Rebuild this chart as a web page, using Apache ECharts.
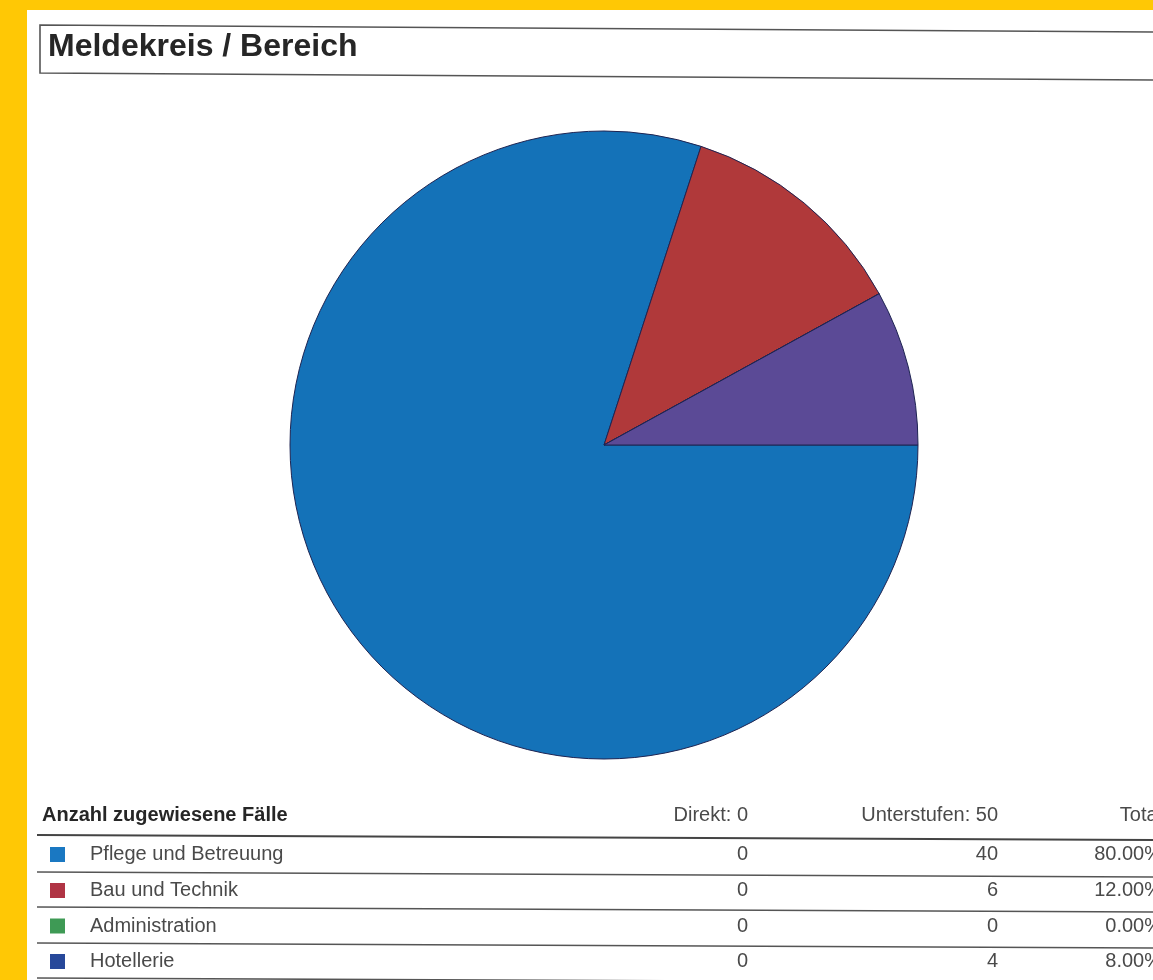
<!DOCTYPE html>
<html>
<head>
<meta charset="utf-8">
<script src="https://cdn.jsdelivr.net/npm/echarts@6/dist/echarts.min.js"></script>
<style>
  html, body { margin: 0; padding: 0; background: #ffffff; }
  #chart { width: 1153px; height: 980px; }
</style>
</head>
<body>
<div id="chart"></div>
<script>
// Report content
const titleText = 'Meldekreis / Bereich';
const tableTitle = 'Anzahl zugewiesene Fälle';
const categories = ['Pflege und Betreuung', 'Bau und Technik', 'Administration', 'Hotellerie'];
const direkt = [0, 0, 0, 0];
const unterstufen = [40, 6, 0, 4];
const columnHeads = ['Direkt', 'Unterstufen', 'Total'];

// Colours
const sliceColors = ['#1472b8', '#b0393a', '#3e9a55', '#5b4a96'];
const legendColors = ['#1a78c2', '#b03444', '#3e9a55', '#27489a'];

const FONT = "'Liberation Sans', Arial, Helvetica, sans-serif";
const sum = a => a.reduce((s, v) => s + v, 0);
const totals = categories.map((_, i) => direkt[i] + unterstufen[i]);
const grandTotal = sum(totals);
const pct = v => (grandTotal ? (v / grandTotal * 100) : 0).toFixed(2) + '%';

function text(x, y, str, opts) {
  const align = opts.align || 'left';
  return {
    type: 'text', silent: true,
    style: {
      x: x, y: y, text: str,
      font: opts.font, fill: opts.fill || '#333',
      align: align, verticalAlign: 'middle',
      textAlign: align, textVerticalAlign: 'middle'
    }
  };
}
function line(x1, y1, x2, y2, color, width) {
  return {
    type: 'line', silent: true,
    shape: { x1: x1, y1: y1, x2: x2, y2: y2 },
    style: { stroke: color, lineWidth: width }
  };
}

const W = 1153;
const graphics = [];

// yellow frame along the left and top edge
graphics.push({ type: 'rect', silent: true, shape: { x: 0, y: 0, width: 27, height: 980 }, style: { fill: '#ffc805' } });
graphics.push({ type: 'rect', silent: true, shape: { x: 0, y: 0, width: W, height: 10 }, style: { fill: '#ffc805' } });

// title box
graphics.push({
  type: 'polyline', silent: true,
  shape: { points: [[W + 5, 32], [40, 25], [40, 73], [W + 5, 80]] },
  style: { stroke: '#555', lineWidth: 1.6, fill: null }
});
graphics.push(text(48, 47, titleText, { font: 'bold 32px ' + FONT, fill: '#262626' }));

// table header
const colX = [748, 998, 1162];
const headY = 815;
graphics.push(text(42, headY, tableTitle, { font: 'bold 20px ' + FONT, fill: '#262626' }));
graphics.push(text(colX[0], headY, columnHeads[0] + ': ' + sum(direkt), { font: '20px ' + FONT, fill: '#4a4a4a', align: 'right' }));
graphics.push(text(colX[1], headY, columnHeads[1] + ': ' + sum(unterstufen), { font: '20px ' + FONT, fill: '#4a4a4a', align: 'right' }));
graphics.push(text(colX[2], headY, columnHeads[2], { font: '20px ' + FONT, fill: '#4a4a4a', align: 'right' }));

// table rows
const lineYs = [835, 872, 907, 943, 978];
graphics.push(line(37, lineYs[0], W + 5, lineYs[0] + 5, '#444', 2));
categories.forEach((name, i) => {
  const cy = (lineYs[i] + lineYs[i + 1]) / 2 + 1;
  graphics.push({
    type: 'rect', silent: true,
    shape: { x: 50, y: cy - 7.5, width: 15, height: 15 },
    style: { fill: legendColors[i] }
  });
  graphics.push(text(90, cy, name, { font: '20px ' + FONT, fill: '#4a4a4a' }));
  graphics.push(text(colX[0], cy, String(direkt[i]), { font: '20px ' + FONT, fill: '#4a4a4a', align: 'right' }));
  graphics.push(text(colX[1], cy, String(unterstufen[i]), { font: '20px ' + FONT, fill: '#4a4a4a', align: 'right' }));
  graphics.push(text(colX[2], cy, pct(totals[i]), { font: '20px ' + FONT, fill: '#4a4a4a', align: 'right' }));
  graphics.push(line(37, lineYs[i + 1], W + 5, lineYs[i + 1] + 5, '#555', 1.6));
});

const chart = echarts.init(document.getElementById('chart'), null, { renderer: 'canvas' });
chart.setOption({
  backgroundColor: '#ffffff',
  animation: false,
  tooltip: { show: false },
  series: [{
    type: 'pie',
    center: [604, 445],
    radius: 314,
    startAngle: 0,
    clockwise: true,
    label: { show: false },
    labelLine: { show: false },
    emphasis: { disabled: true },
    itemStyle: { borderColor: '#1e2452', borderWidth: 1 },
    data: categories.map((name, i) => ({
      name: name,
      value: totals[i],
      itemStyle: { color: sliceColors[i] }
    }))
  }],
  graphic: { elements: graphics }
});
</script>
</body>
</html>
